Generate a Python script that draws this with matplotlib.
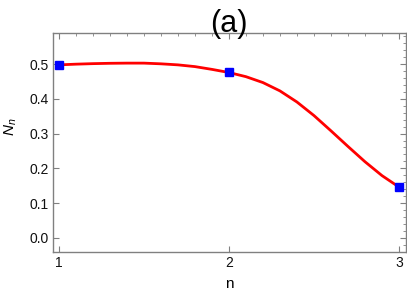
import matplotlib
matplotlib.use('Agg')
import matplotlib.pyplot as plt
from matplotlib.ticker import MultipleLocator

plt.rcParams['font.family'] = ['Liberation Sans', 'DejaVu Sans']
plt.rcParams['mathtext.fontset'] = 'custom'
plt.rcParams['mathtext.it'] = 'Liberation Sans:italic'
plt.rcParams['mathtext.rm'] = 'Liberation Sans'

# data points (blue squares)
n_pts = [1, 2, 3]
N_pts = [0.498, 0.476, 0.146]

# smooth curve, values
n_curve = [1.0, 1.1, 1.2, 1.3, 1.4, 1.5, 1.6, 1.7, 1.8, 1.9, 2.0,
           2.1, 2.2, 2.3, 2.4, 2.5, 2.6, 2.7, 2.8, 2.9, 3.0]
N_curve = [0.498, 0.500, 0.5015, 0.5025, 0.503, 0.503, 0.501, 0.498, 0.493, 0.485, 0.476,
           0.464, 0.447, 0.423, 0.391, 0.352, 0.308, 0.263, 0.219, 0.179, 0.146]

x_ticks = [1, 2, 3]
y_ticks = [0.0, 0.1, 0.2, 0.3, 0.4, 0.5]

fig = plt.figure(figsize=(4.07, 2.94), dpi=100)
ax = fig.add_axes([0.130, 0.143, 0.867, 0.745])

ax.plot(n_curve, N_curve, color='#ff0000', lw=2.0, solid_capstyle='round',
        solid_joinstyle='round', zorder=2)
ax.plot(n_pts, N_pts, 's', color='#0000ff', ms=6, zorder=3, clip_on=False)

ax.set_xlim(0.965, 3.04)
ax.set_ylim(-0.041, 0.59)

ax.set_xticks(x_ticks)
ax.set_xticklabels([str(v) for v in x_ticks])
ax.set_yticks(y_ticks)
ax.set_yticklabels(['%.1f' % v for v in y_ticks])

spine_col = '#808080'
for s in ax.spines.values():
    s.set_color(spine_col)
    s.set_linewidth(1.0)

ax.tick_params(axis='both', which='major', direction='in', length=4, width=0.8,
               color=spine_col, labelsize=10, labelcolor='#111111', pad=3)
ax.tick_params(axis='x', which='major', top=True, labeltop=False)
ax.tick_params(axis='y', which='major', right=True, labelright=False)

# minor ticks only on top and right, as in the original frame
ax.xaxis.set_minor_locator(MultipleLocator(0.1))
ax.yaxis.set_minor_locator(MultipleLocator(0.02))
ax.tick_params(axis='both', which='minor', direction='in', length=2.5, width=0.6,
               color=spine_col, bottom=False, left=False, top=True, right=True)

ax.set_title('(a)', fontsize=22, pad=1)
ax.set_xlabel('n', fontsize=11, labelpad=5)
ax.set_ylabel(r'$N_n$', fontsize=11, rotation=90)
ax.yaxis.set_label_coords(-0.095, 0.57)

fig.savefig('out.png', dpi=100)
